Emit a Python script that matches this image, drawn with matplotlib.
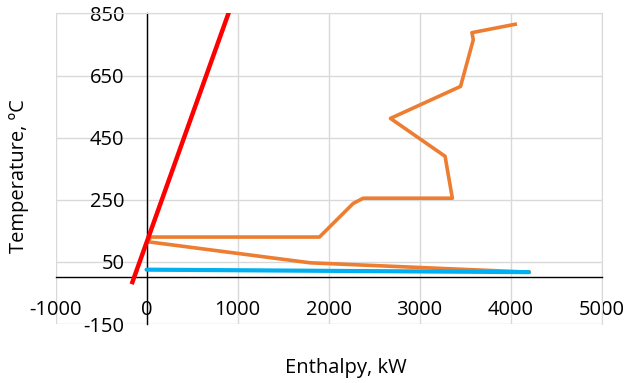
import matplotlib.pyplot as plt

plt.rcParams['font.family'] = ['Open Sans', 'DejaVu Sans']
plt.rcParams['axes.unicode_minus'] = False

# hot side composite (orange)
hot_x = [4200, 1800, 10, 50, 1900, 2270, 2380, 3360, 3280, 2680, 3450, 3590, 3575, 4050]
hot_t = [17, 47, 115, 130, 130, 238, 255, 255, 390, 512, 615, 765, 788, 815]

# cold stream (blue)
cold_x = [0, 4200]
cold_t = [25, 17]

# red line
red_x = [-155, 900]
red_t = [-15, 850]

x_ticks = [-1000, 0, 1000, 2000, 3000, 4000, 5000]
y_ticks = [-150, 50, 250, 450, 650, 850]

fig = plt.figure(figsize=(6.28, 3.83), dpi=100)
ax = fig.add_axes([0.0884, 0.154, 0.8696, 0.811])

ax.plot(hot_x, hot_t, color='#ED7D31', lw=2.6, solid_joinstyle='round', zorder=3)
ax.plot(cold_x, cold_t, color='#00B0F0', lw=3, solid_capstyle='round', zorder=4)
ax.plot(red_x, red_t, color='#FF0000', lw=3.2, zorder=5)

ax.set_xlim(-1000, 5000)
ax.set_ylim(-150, 850)
ax.set_xticks(x_ticks)
ax.set_yticks(y_ticks)
ax.grid(True, color='#D9D9D9', lw=1)
ax.set_axisbelow(True)

ax.spines['left'].set_position(('data', 0))
ax.spines['bottom'].set_position(('data', 0))
for s in ['left', 'bottom']:
    ax.spines[s].set_color('black')
    ax.spines[s].set_linewidth(1)
for s in ['top', 'right']:
    ax.spines[s].set_color('#D9D9D9')
ax.tick_params(axis='both', length=0, labelsize=14.5)
ax.tick_params(axis='x', pad=16)
ax.tick_params(axis='y', pad=16)

fig.text(346/628, 1 - 368/383, "Enthalpy, kW", fontsize=14.5, ha='center', va='center')
fig.text(19/628, 1 - 176/383, "Temperature, ºC", fontsize=14.5, ha='center', va='center',
         rotation=90)

fig.savefig("out.png", dpi=100)
